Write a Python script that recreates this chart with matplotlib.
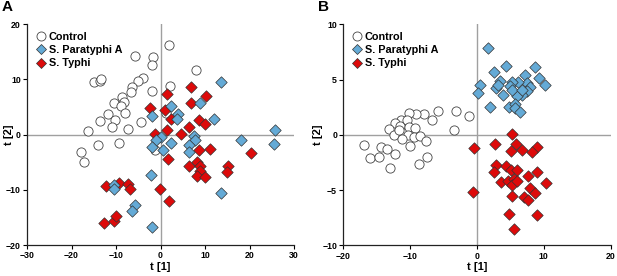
import numpy as np
import matplotlib
matplotlib.use('Agg')
import matplotlib.pyplot as plt
from matplotlib.lines import Line2D

plt.rcParams['font.family'] = ['Liberation Sans', 'DejaVu Sans']

# ---- Panel A scores ----
a_ctrl_x = [1.9, -5.8, -1.8, -2.0, 7.9, -14.9, -13.6, -13.4, -4.0, -5.0, -6.3, -6.6, 2.2,
            -1.9, -8.6, -10.5, -8.2, -8.9, -11.7, -10.2, -7.9, -13.5, -4.4, -10.8, -7.3,
            -16.4, -14.1, -9.3, -17.9, -17.1, -1.3, 1.2]
a_ctrl_y = [16.3, 14.3, 14.0, 12.6, 11.8, 9.5, 9.8, 10.0, 10.3, 9.8, 8.7, 7.8, 8.8,
            8.0, 6.9, 5.7, 6.0, 5.2, 3.7, 2.7, 4.0, 2.5, 2.3, 1.4, 1.0,
            0.7, -1.8, -1.6, -3.1, -4.9, -2.8, 4.0]

a_para_x = [13.5, 8.9, 2.3, 4.0, 3.7, 12.0, -2.0, 0.1, -1.0, -1.9, 0.6, 2.4, 7.5, 7.8,
            6.5, 6.4, 18.0, 25.8, 25.6, 13.6, -2.2, -10.5, -10.5, -5.8, -6.5, -2.0]
a_para_y = [9.6, 5.8, 5.2, 3.7, 2.8, 2.8, 3.4, -0.5, -1.0, -2.2, -2.7, -1.6, -0.2, -1.0,
            -1.9, -3.2, -0.9, 0.8, -1.7, -10.6, -7.4, -9.1, -9.9, -12.7, -13.9, -16.7]

a_typh_x = [6.8, 1.4, 10.2, 6.9, 1.0, -2.4, 2.4, 6.4, 8.7, 10.1, 1.5, -1.3, 4.6, 8.7,
            11.1, 1.6, 20.3, 6.4, 8.2, 8.9, 8.9, 8.2, 10.1, 15.2, 14.9, -0.1, 1.9,
            -12.3, -9.3, -7.4, -6.9, -12.6, -10.5, -10.0]
a_typh_y = [8.6, 7.3, 7.0, 5.7, 4.4, 4.8, 2.8, 1.4, 2.7, 1.9, 0.9, 0.2, 0.1, -2.8,
            -2.6, -4.4, -3.3, -5.6, -4.9, -5.6, -6.5, -7.5, -7.6, -5.6, -6.8, -9.9, -12.0,
            -9.3, -8.7, -9.0, -9.8, -16.0, -15.6, -14.7]

# ---- Panel B scores ----
b_ctrl_x = [-5.9, -3.1, -1.2, -3.4, -6.7, -8.0, -9.1, -10.2, -11.3, -12.2, -11.5, -13.1,
            -12.4, -11.6, -10.4, -10.2, -9.2, -10.3, -11.2, -9.4, -8.6, -10.0, -7.6,
            -16.9, -14.4, -13.4, -12.3, -16.0, -14.7, -13.0, -7.5, -8.7]
b_ctrl_y = [2.2, 2.2, 1.7, 0.4, 1.3, 1.9, 1.9, 2.0, 1.3, 1.1, 0.8, 0.5,
            0.0, 0.4, 1.3, 0.7, 0.6, 0.0, -0.4, -0.2, -0.1, -1.0, -0.6,
            -0.9, -1.1, -1.3, -1.7, -2.1, -2.0, -3.0, -2.0, -2.6]

b_para_x = [1.7, 4.3, 2.6, 8.7, 0.5, 0.2, 1.9, 9.3, 10.1, 7.2, 7.5, 8.0, 7.5, 6.8,
            6.2, 5.2, 4.9, 3.5, 2.9, 3.2, 3.9, 6.0, 4.8, 5.7, 5.7, 6.4, 5.2, 6.7]
b_para_y = [7.9, 6.2, 5.7, 6.1, 4.5, 3.8, 2.5, 5.1, 4.5, 5.4, 4.7, 4.3, 4.0, 3.6,
            4.8, 4.8, 4.4, 4.9, 4.2, 4.5, 3.6, 3.5, 2.5, 2.8, 2.4, 2.1, 4.1, 4.1]

b_typh_x = [5.2, 5.8, -0.4, 2.7, 6.8, 5.1, 8.9, 8.3, 2.8, 2.5, 4.3, 5.1, 6.0, 9.0,
            3.6, 4.7, 5.6, 5.3, 6.0, 7.6, 10.3, 8.0, 8.7, 7.1, 7.6, 5.2, -0.6, 4.8,
            9.0, 5.6]
b_typh_y = [0.1, -0.8, -1.2, -0.8, -1.4, -1.5, -1.1, -1.6, -2.7, -3.4, -2.8, -3.2, -3.2, -3.4,
            -4.3, -4.2, -4.0, -4.5, -4.2, -3.7, -4.4, -4.8, -5.3, -5.6, -5.9, -5.5, -5.2, -7.2,
            -7.3, -8.5]

BLUE = '#64AAD6'
RED = '#DD0A0A'
labels = ['Control', 'S. Paratyphi A', 'S. Typhi']


def draw_panel(ax, ctrl, para, typh, xlim, ylim, xticks, yticks, letter, ylab_x):
    ax.axhline(0, color='#a0a0a0', lw=1.0, zorder=1)
    ax.axvline(0, color='#a0a0a0', lw=1.0, zorder=1)
    ax.scatter(*ctrl, s=44, marker='o', facecolor='white', edgecolor='#444444',
               linewidth=0.6, zorder=2)
    ax.scatter(*typh, s=34, marker='D', facecolor=RED, edgecolor='#333333',
               linewidth=0.5, zorder=3)
    ax.scatter(*para, s=34, marker='D', facecolor=BLUE, edgecolor='#333333',
               linewidth=0.5, zorder=4)

    ax.set_xlim(*xlim)
    ax.set_ylim(*ylim)
    ax.set_xticks(xticks)
    ax.set_yticks(yticks)
    for sp in ['top', 'right']:
        ax.spines[sp].set_visible(False)
    for sp in ['left', 'bottom']:
        ax.spines[sp].set_linewidth(0.9)
        ax.spines[sp].set_color('#222222')
    ax.tick_params(direction='out', length=3, width=0.8, labelsize=6.3, pad=1.5)
    for lab in ax.get_xticklabels() + ax.get_yticklabels():
        lab.set_fontweight('bold')
    ax.set_xlabel('t [1]', fontsize=8, fontweight='bold', labelpad=1)
    ax.set_ylabel('t [2]', fontsize=8, fontweight='bold')
    ax.yaxis.set_label_coords(ylab_x, 0.5)

    handles = [
        Line2D([], [], marker='o', ls='', ms=6.5, mfc='white', mec='#444444', mew=0.6),
        Line2D([], [], marker='D', ls='', ms=5.5, mfc=BLUE, mec='#333333', mew=0.5),
        Line2D([], [], marker='D', ls='', ms=5.5, mfc=RED, mec='#333333', mew=0.5),
    ]
    ax.legend(handles, labels, loc='upper left', frameon=False,
              bbox_to_anchor=(0.0, 1.0), borderaxespad=0.3,
              handletextpad=0.1, labelspacing=0.3, handlelength=1.2,
              prop={'size': 7.8, 'weight': 'bold'})
    ax.text(-0.095, 1.11, letter, transform=ax.transAxes, fontsize=11,
            fontweight='bold', ha='left', va='top')


fig = plt.figure(figsize=(6.17, 2.76), dpi=100)
axA = fig.add_axes([0.0438, 0.1123, 0.4327, 0.7996])
axB = fig.add_axes([0.5564, 0.1112, 0.4334, 0.8007])

draw_panel(axA, (a_ctrl_x, a_ctrl_y), (a_para_x, a_para_y), (a_typh_x, a_typh_y),
           (-30, 30), (-20, 20), [-30, -20, -10, 0, 10, 20, 30], [-20, -10, 0, 10, 20],
           'A', -0.05)
draw_panel(axB, (b_ctrl_x, b_ctrl_y), (b_para_x, b_para_y), (b_typh_x, b_typh_y),
           (-20, 20), (-10, 10), [-20, -10, 0, 10, 20], [-10, -5, 0, 5, 10],
           'B', -0.075)

fig.savefig('out.png', dpi=100)
